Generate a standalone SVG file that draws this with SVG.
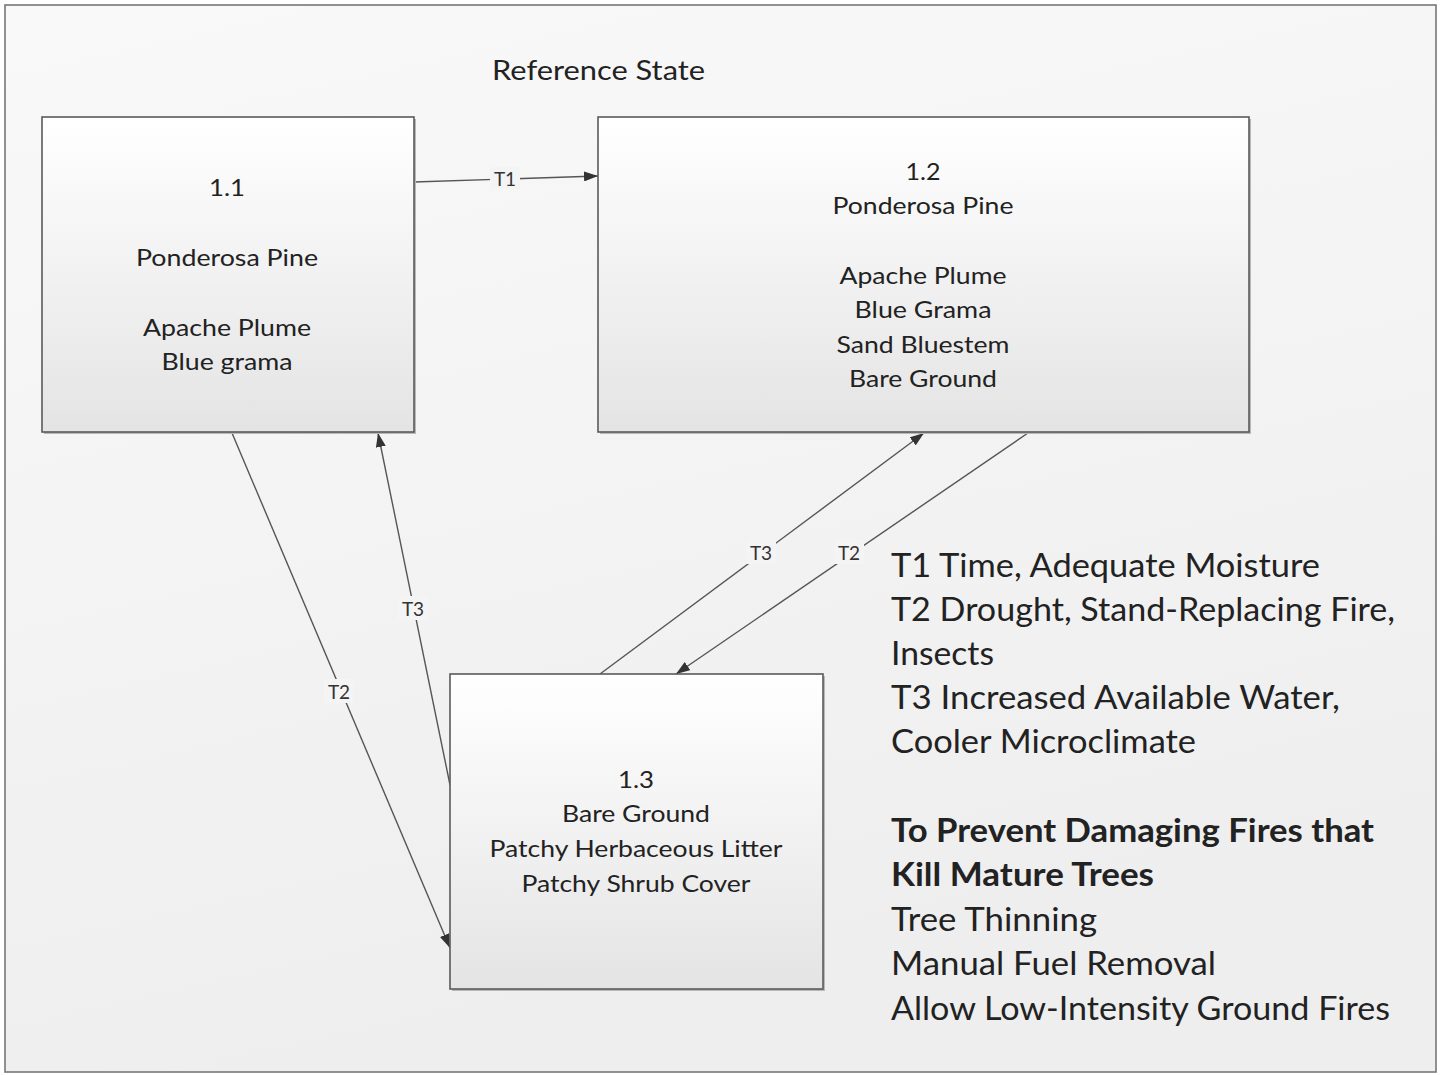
<svg xmlns="http://www.w3.org/2000/svg" width="1445" height="1075" viewBox="0 0 1445 1075">
<defs>
<linearGradient id="bg" x1="0" y1="0" x2="0.3" y2="1">
<stop offset="0" stop-color="#f9f9f9"/>
<stop offset="1" stop-color="#eeeeee"/>
</linearGradient>
<linearGradient id="box" x1="0" y1="0" x2="0" y2="1">
<stop offset="0" stop-color="#ffffff"/>
<stop offset="1" stop-color="#e4e4e4"/>
</linearGradient>
<marker id="arr" viewBox="0 0 14 10" refX="14" refY="5" markerWidth="14" markerHeight="10" markerUnits="userSpaceOnUse" orient="auto">
<path d="M0,0 L14,5 L0,10 Z" fill="#333"/>
</marker>
<style>
.node rect.b{fill:url(#box);stroke:#5a5a5a;stroke-width:1.6}
.node rect.s{fill:#b8b8b8}
text{font-family:Lato,"Open Sans","Liberation Sans",sans-serif;fill:#222}
.nt{font-size:24px;text-anchor:middle}
.lg{font-size:32px}
.lgb{font-size:32px;font-weight:bold}
.cl{font-size:19px;text-anchor:middle;fill:#333}
.conn line{stroke:#555;stroke-width:1.4;marker-end:url(#arr)}
.lb{fill:#f4f4f4}
</style>
</defs>
<rect x="0" y="0" width="1445" height="1075" fill="#ffffff"/>
<rect x="5" y="5" width="1431" height="1067" fill="url(#bg)" stroke="#777" stroke-width="1.6"/>
<text x="492" y="80" font-size="27" textLength="213" lengthAdjust="spacingAndGlyphs">Reference State</text>

<g id="connectors" class="conn">
<line x1="414" y1="182" x2="598" y2="176"/>
<line x1="232" y1="433" x2="450" y2="948"/>
<line x1="450" y1="785" x2="378" y2="433"/>
<line x1="600" y1="674" x2="924" y2="433"/>
<line x1="1028" y1="433" x2="676" y2="674"/>
<rect class="lb" x="490" y="167" width="30" height="22"/>
<text class="cl" x="505" y="186">T1</text>
<rect class="lb" x="324" y="679" width="30" height="24"/>
<text class="cl" x="339" y="699">T2</text>
<rect class="lb" x="398" y="596" width="30" height="24"/>
<text class="cl" x="413" y="616">T3</text>
<rect class="lb" x="746" y="540" width="30" height="24"/>
<text class="cl" x="761" y="560">T3</text>
<rect class="lb" x="834" y="540" width="30" height="24"/>
<text class="cl" x="849" y="560">T2</text>
</g>

<g id="node-1-1" class="node">
<rect class="s" x="44" y="119" width="372" height="315"/>
<rect class="b" x="42" y="117" width="372" height="315"/>
<text class="nt" x="227" y="196" textLength="36" lengthAdjust="spacingAndGlyphs">1.1</text>
<text class="nt" x="227" y="266" textLength="182" lengthAdjust="spacingAndGlyphs">Ponderosa Pine</text>
<text class="nt" x="227" y="336" textLength="168" lengthAdjust="spacingAndGlyphs">Apache Plume</text>
<text class="nt" x="227" y="370" textLength="131" lengthAdjust="spacingAndGlyphs">Blue grama</text>
</g>

<g id="node-1-2" class="node">
<rect class="s" x="600" y="119" width="651" height="315"/>
<rect class="b" x="598" y="117" width="651" height="315"/>
<text class="nt" x="923" y="180" textLength="35" lengthAdjust="spacingAndGlyphs">1.2</text>
<text class="nt" x="923" y="214" textLength="181" lengthAdjust="spacingAndGlyphs">Ponderosa Pine</text>
<text class="nt" x="923" y="284" textLength="167" lengthAdjust="spacingAndGlyphs">Apache Plume</text>
<text class="nt" x="923" y="318" textLength="137" lengthAdjust="spacingAndGlyphs">Blue Grama</text>
<text class="nt" x="923" y="353" textLength="173" lengthAdjust="spacingAndGlyphs">Sand Bluestem</text>
<text class="nt" x="923" y="387" textLength="148" lengthAdjust="spacingAndGlyphs">Bare Ground</text>
</g>

<g id="node-1-3" class="node">
<rect class="s" x="452" y="676" width="373" height="315"/>
<rect class="b" x="450" y="674" width="373" height="315"/>
<text class="nt" x="636" y="788" textLength="36" lengthAdjust="spacingAndGlyphs">1.3</text>
<text class="nt" x="636" y="822" textLength="148" lengthAdjust="spacingAndGlyphs">Bare Ground</text>
<text class="nt" x="636" y="857" textLength="293" lengthAdjust="spacingAndGlyphs">Patchy Herbaceous Litter</text>
<text class="nt" x="636" y="892" textLength="229" lengthAdjust="spacingAndGlyphs">Patchy Shrub Cover</text>
</g>

<g id="legend">
<text class="lg" x="891" y="577" textLength="429" lengthAdjust="spacingAndGlyphs">T1 Time, Adequate Moisture</text>
<text class="lg" x="891" y="621" textLength="504" lengthAdjust="spacingAndGlyphs">T2 Drought, Stand-Replacing Fire,</text>
<text class="lg" x="891" y="665" textLength="103" lengthAdjust="spacingAndGlyphs">Insects</text>
<text class="lg" x="891" y="709" textLength="449" lengthAdjust="spacingAndGlyphs">T3 Increased Available Water,</text>
<text class="lg" x="891" y="753" textLength="305" lengthAdjust="spacingAndGlyphs">Cooler Microclimate</text>
<text class="lgb" x="891" y="842" textLength="483" lengthAdjust="spacingAndGlyphs">To Prevent Damaging Fires that</text>
<text class="lgb" x="891" y="886" textLength="263" lengthAdjust="spacingAndGlyphs">Kill Mature Trees</text>
<text class="lg" x="891" y="931" textLength="206" lengthAdjust="spacingAndGlyphs">Tree Thinning</text>
<text class="lg" x="891" y="975" textLength="325" lengthAdjust="spacingAndGlyphs">Manual Fuel Removal</text>
<text class="lg" x="891" y="1020" textLength="499" lengthAdjust="spacingAndGlyphs">Allow Low-Intensity Ground Fires</text>
</g>
</svg>
